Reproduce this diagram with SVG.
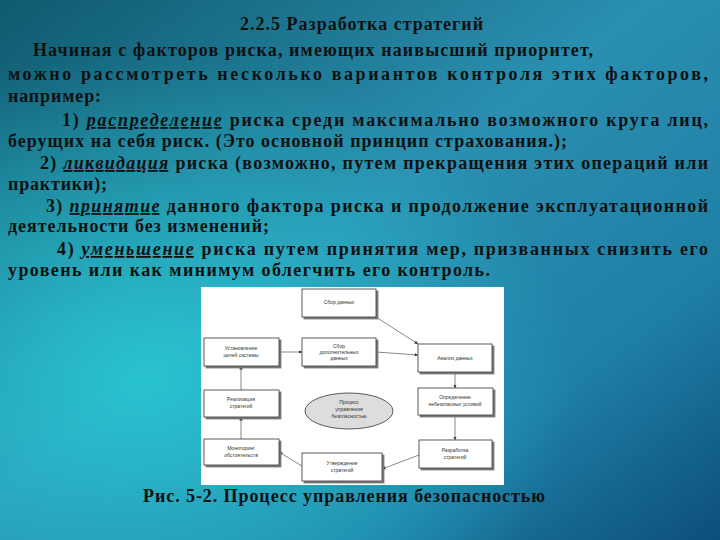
<svg xmlns="http://www.w3.org/2000/svg" width="720" height="540" viewBox="0 0 720 540">
<defs>
<linearGradient id="bg" x1="0" y1="0" x2="1" y2="1">
<stop offset="0" stop-color="#0f5a6e"/>
<stop offset="0.45" stop-color="#2a8fb0"/>
<stop offset="0.75" stop-color="#1f7fa6"/>
<stop offset="1" stop-color="#0c4f7a"/>
</linearGradient>
<radialGradient id="glow" cx="0.2" cy="0.7" r="0.6">
<stop offset="0" stop-color="#29d0d8" stop-opacity="0.8"/>
<stop offset="1" stop-color="#29d0d8" stop-opacity="0"/>
</radialGradient>
<marker id="ar" viewBox="0 0 6 6" refX="6" refY="3" markerWidth="5" markerHeight="5" orient="auto"><path d="M0,0L6,3L0,6z" fill="#333"/></marker>
<filter id="sh"><feDropShadow dx="2" dy="2" stdDeviation="0.5" flood-color="#777"/></filter>
</defs>
<style>
.t{font-family:"Liberation Serif",serif;font-size:18px;font-weight:bold;fill:#111}
.u{font-style:italic;text-decoration:underline}
.b{fill:#fff;stroke:#333;stroke-width:0.8;filter:url(#sh)}
.s{font-family:"Liberation Sans",sans-serif;font-size:5px;fill:#333;text-anchor:middle}
.c{stroke:#555;stroke-width:0.7;fill:none;marker-end:url(#ar)}
</style>
<rect width="720" height="540" fill="url(#bg)"/>
<rect width="720" height="540" fill="url(#glow)"/>
<text class="t" x="240" y="30" textLength="243" lengthAdjust="spacing">2.2.5 Разработка стратегий</text>
<text class="t" x="33" y="56" textLength="560" lengthAdjust="spacing">Начиная с факторов риска, имеющих наивысший приоритет,</text>
<text class="t" x="8" y="80" textLength="700" lengthAdjust="spacing">можно рассмотреть несколько вариантов контроля этих факторов,</text>
<text class="t" x="8" y="102" textLength="93" lengthAdjust="spacing">например:</text>
<text class="t" x="62" y="126" textLength="646" lengthAdjust="spacing">1) <tspan class="u">распределение</tspan> риска среди максимально возможного круга лиц,</text>
<text class="t" x="8" y="147" textLength="559" lengthAdjust="spacing">берущих на себя риск. (Это основной принцип страхования.);</text>
<text class="t" x="40" y="169" textLength="668" lengthAdjust="spacing">2) <tspan class="u">ликвидация</tspan> риска (возможно, путем прекращения этих операций или</text>
<text class="t" x="8" y="190" textLength="99" lengthAdjust="spacing">практики);</text>
<text class="t" x="46" y="212" textLength="662" lengthAdjust="spacing">3) <tspan class="u">принятие</tspan> данного фактора риска и продолжение эксплуатационной</text>
<text class="t" x="8" y="232" textLength="261" lengthAdjust="spacing">деятельности без изменений;</text>
<text class="t" x="57" y="255" textLength="651" lengthAdjust="spacing">4) <tspan class="u">уменьшение</tspan> риска путем принятия мер, призванных снизить его</text>
<text class="t" x="8" y="276" textLength="482" lengthAdjust="spacing">уровень или как минимум облегчить его контроль.</text>
<rect x="201" y="287" width="303" height="198" fill="#fff"/>
<g id="connectors">
<line class="c" x1="376" y1="317" x2="418" y2="344"/>
<line class="c" x1="279" y1="352" x2="302" y2="352"/>
<line class="c" x1="376" y1="352" x2="418" y2="355"/>
<line class="c" x1="455" y1="372" x2="455" y2="388"/>
<line class="c" x1="455" y1="415" x2="455" y2="440"/>
<line class="c" x1="419" y1="455" x2="382" y2="469"/>
<line class="c" x1="302" y1="466" x2="279" y2="452"/>
<line class="c" x1="241" y1="439" x2="241" y2="417"/>
<line class="c" x1="241" y1="390" x2="241" y2="366"/>
</g>
<g id="n1"><rect class="b" x="302" y="289" width="74" height="28"/><text class="s" x="339" y="304">Сбор данных</text></g>
<g id="n2"><rect class="b" x="204" y="338" width="75" height="28"/><text class="s" x="241" y="350">Установление</text><text class="s" x="241" y="357">целей системы</text></g>
<g id="n3"><rect class="b" x="302" y="338" width="74" height="28"/><text class="s" x="339" y="348">Сбор</text><text class="s" x="339" y="354">дополнительных</text><text class="s" x="339" y="360">данных</text></g>
<g id="n4"><rect class="b" x="418" y="344" width="74" height="28"/><text class="s" x="455" y="360">Анализ данных</text></g>
<g id="n5"><rect class="b" x="204" y="390" width="75" height="27"/><text class="s" x="241" y="401">Реализация</text><text class="s" x="241" y="408">стратегий</text></g>
<g id="n6"><ellipse cx="349" cy="411" rx="44" ry="18" fill="#ddd" stroke="#333" stroke-width="0.8"/><text class="s" x="349" y="404">Процесс</text><text class="s" x="349" y="411">управления</text><text class="s" x="349" y="418">безопасностью</text></g>
<g id="n7"><rect class="b" x="418" y="388" width="75" height="27"/><text class="s" x="455" y="399">Определение</text><text class="s" x="455" y="406">небезопасных условий</text></g>
<g id="n8"><rect class="b" x="204" y="439" width="75" height="26"/><text class="s" x="241" y="450">Мониторинг</text><text class="s" x="241" y="457">обстоятельств</text></g>
<g id="n9"><rect class="b" x="302" y="453" width="80" height="28"/><text class="s" x="342" y="465">Утверждение</text><text class="s" x="342" y="472">стратегий</text></g>
<g id="n10"><rect class="b" x="419" y="440" width="73" height="28"/><text class="s" x="455" y="452">Разработка</text><text class="s" x="455" y="459">стратегий</text></g>
<text class="t" x="143" y="502" textLength="402" lengthAdjust="spacing">Рис. 5-2. Процесс управления безопасностью</text>
</svg>
